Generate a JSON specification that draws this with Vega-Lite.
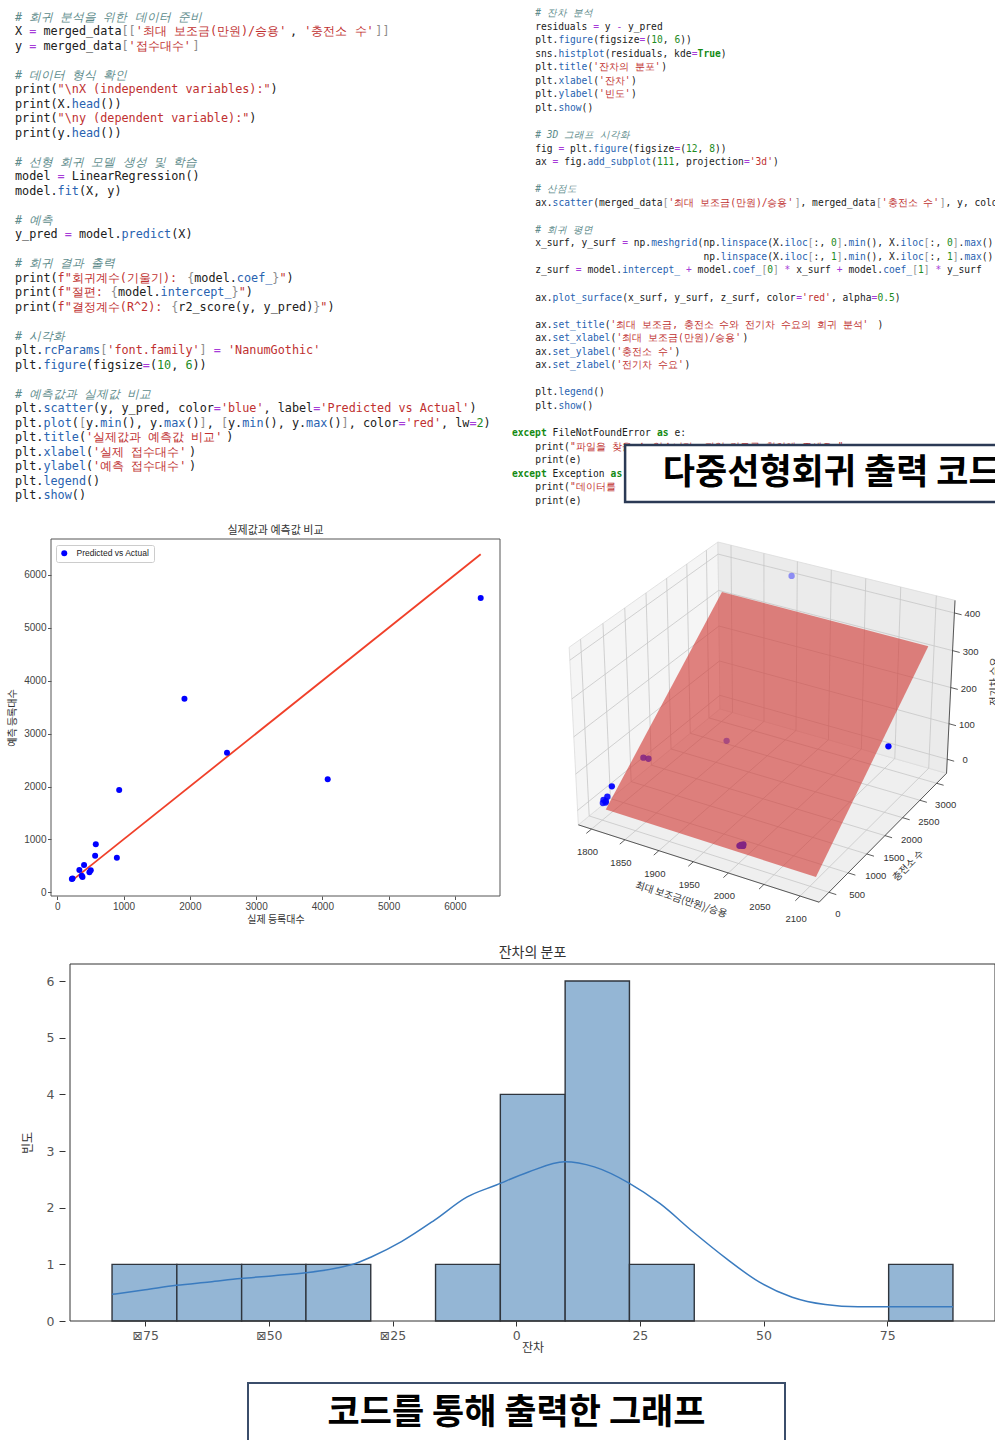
{
"$schema": "https://vega.github.io/schema/vega-lite/v6.json",
"background": "white",
"padding": 0,
"bounds": "flush",
"spacing": 0,
"resolve": {"scale": {"color": "independent"}, "legend": {"color": "independent"}},
"config": {"view": {"stroke": null}, "concat": {"spacing": 0}},
"datasets": {
"codeL": [
{"l":0,"c":0,"k":"c","t":"# 회귀 분석을 위한 데이터 준비"},
{"l":1,"c":0,"k":"d","t":"X"},{"l":1,"c":2,"k":"o","t":"="},{"l":1,"c":4,"k":"d","t":"merged_data"},{"l":1,"c":15,"k":"b","t":"[["},{"l":1,"c":17,"k":"s","t":"'최대 보조금(만원)/승용'"},{"l":1,"c":38.75,"k":"d","t":","},{"l":1,"c":40.75,"k":"s","t":"'충전소 수'"},{"l":1,"c":50.75,"k":"b","t":"]]"},
{"l":2,"c":0,"k":"d","t":"y"},{"l":2,"c":2,"k":"o","t":"="},{"l":2,"c":4,"k":"d","t":"merged_data"},{"l":2,"c":15,"k":"b","t":"["},{"l":2,"c":16,"k":"s","t":"'접수대수'"},{"l":2,"c":25,"k":"b","t":"]"},
{"l":4,"c":0,"k":"c","t":"# 데이터 형식 확인"},
{"l":5,"c":0,"k":"d","t":"print("},{"l":5,"c":6,"k":"s","t":"\"\\nX (independent variables):\""},{"l":5,"c":36,"k":"d","t":")"},
{"l":6,"c":0,"k":"d","t":"print(X."},{"l":6,"c":8,"k":"p","t":"head"},{"l":6,"c":12,"k":"d","t":"())"},
{"l":7,"c":0,"k":"d","t":"print("},{"l":7,"c":6,"k":"s","t":"\"\\ny (dependent variable):\""},{"l":7,"c":33,"k":"d","t":")"},
{"l":8,"c":0,"k":"d","t":"print(y."},{"l":8,"c":8,"k":"p","t":"head"},{"l":8,"c":12,"k":"d","t":"())"},
{"l":10,"c":0,"k":"c","t":"# 선형 회귀 모델 생성 및 학습"},
{"l":11,"c":0,"k":"d","t":"model"},{"l":11,"c":6,"k":"o","t":"="},{"l":11,"c":8,"k":"d","t":"LinearRegression()"},
{"l":12,"c":0,"k":"d","t":"model."},{"l":12,"c":6,"k":"p","t":"fit"},{"l":12,"c":9,"k":"d","t":"(X, y)"},
{"l":14,"c":0,"k":"c","t":"# 예측"},
{"l":15,"c":0,"k":"d","t":"y_pred"},{"l":15,"c":7,"k":"o","t":"="},{"l":15,"c":9,"k":"d","t":"model."},{"l":15,"c":15,"k":"p","t":"predict"},{"l":15,"c":22,"k":"d","t":"(X)"},
{"l":17,"c":0,"k":"c","t":"# 회귀 결과 출력"},
{"l":18,"c":0,"k":"d","t":"print("},{"l":18,"c":6,"k":"s","t":"f\"회귀계수(기울기):"},{"l":18,"c":24.25,"k":"b","t":"{"},{"l":18,"c":25.25,"k":"d","t":"model."},{"l":18,"c":31.25,"k":"p","t":"coef_"},{"l":18,"c":36.25,"k":"b","t":"}"},{"l":18,"c":37.25,"k":"s","t":"\""},{"l":18,"c":38.25,"k":"d","t":")"},
{"l":19,"c":0,"k":"d","t":"print("},{"l":19,"c":6,"k":"s","t":"f\"절편:"},{"l":19,"c":13.5,"k":"b","t":"{"},{"l":19,"c":14.5,"k":"d","t":"model."},{"l":19,"c":20.5,"k":"p","t":"intercept_"},{"l":19,"c":30.5,"k":"b","t":"}"},{"l":19,"c":31.5,"k":"s","t":"\""},{"l":19,"c":32.5,"k":"d","t":")"},
{"l":20,"c":0,"k":"d","t":"print("},{"l":20,"c":6,"k":"s","t":"f\"결정계수(R^2):"},{"l":20,"c":22,"k":"b","t":"{"},{"l":20,"c":23,"k":"d","t":"r2_score(y, y_pred)"},{"l":20,"c":42,"k":"b","t":"}"},{"l":20,"c":43,"k":"s","t":"\""},{"l":20,"c":44,"k":"d","t":")"},
{"l":22,"c":0,"k":"c","t":"# 시각화"},
{"l":23,"c":0,"k":"d","t":"plt."},{"l":23,"c":4,"k":"p","t":"rcParams"},{"l":23,"c":12,"k":"b","t":"["},{"l":23,"c":13,"k":"s","t":"'font.family'"},{"l":23,"c":26,"k":"b","t":"]"},{"l":23,"c":28,"k":"o","t":"="},{"l":23,"c":30,"k":"s","t":"'NanumGothic'"},
{"l":24,"c":0,"k":"d","t":"plt."},{"l":24,"c":4,"k":"p","t":"figure"},{"l":24,"c":10,"k":"d","t":"(figsize"},{"l":24,"c":18,"k":"o","t":"="},{"l":24,"c":19,"k":"d","t":"("},{"l":24,"c":20,"k":"n","t":"10"},{"l":24,"c":22,"k":"d","t":","},{"l":24,"c":24,"k":"n","t":"6"},{"l":24,"c":25,"k":"d","t":"))"},
{"l":26,"c":0,"k":"c","t":"# 예측값과 실제값 비교"},
{"l":27,"c":0,"k":"d","t":"plt."},{"l":27,"c":4,"k":"p","t":"scatter"},{"l":27,"c":11,"k":"d","t":"(y, y_pred, color"},{"l":27,"c":28,"k":"o","t":"="},{"l":27,"c":29,"k":"s","t":"'blue'"},{"l":27,"c":35,"k":"d","t":", label"},{"l":27,"c":42,"k":"o","t":"="},{"l":27,"c":43,"k":"s","t":"'Predicted vs Actual'"},{"l":27,"c":64,"k":"d","t":")"},
{"l":28,"c":0,"k":"d","t":"plt."},{"l":28,"c":4,"k":"p","t":"plot"},{"l":28,"c":8,"k":"d","t":"("},{"l":28,"c":9,"k":"b","t":"["},{"l":28,"c":10,"k":"d","t":"y."},{"l":28,"c":12,"k":"p","t":"min"},{"l":28,"c":15,"k":"d","t":"(), y."},{"l":28,"c":21,"k":"p","t":"max"},{"l":28,"c":24,"k":"d","t":"()"},{"l":28,"c":26,"k":"b","t":"]"},{"l":28,"c":27,"k":"d","t":","},{"l":28,"c":29,"k":"b","t":"["},{"l":28,"c":30,"k":"d","t":"y."},{"l":28,"c":32,"k":"p","t":"min"},{"l":28,"c":35,"k":"d","t":"(), y."},{"l":28,"c":41,"k":"p","t":"max"},{"l":28,"c":44,"k":"d","t":"()"},{"l":28,"c":46,"k":"b","t":"]"},{"l":28,"c":47,"k":"d","t":", color"},{"l":28,"c":54,"k":"o","t":"="},{"l":28,"c":55,"k":"s","t":"'red'"},{"l":28,"c":60,"k":"d","t":", lw"},{"l":28,"c":64,"k":"o","t":"="},{"l":28,"c":65,"k":"n","t":"2"},{"l":28,"c":66,"k":"d","t":")"},
{"l":29,"c":0,"k":"d","t":"plt."},{"l":29,"c":4,"k":"p","t":"title"},{"l":29,"c":9,"k":"d","t":"("},{"l":29,"c":10,"k":"s","t":"'실제값과 예측값 비교'"},{"l":29,"c":29.75,"k":"d","t":")"},
{"l":30,"c":0,"k":"d","t":"plt."},{"l":30,"c":4,"k":"p","t":"xlabel"},{"l":30,"c":10,"k":"d","t":"("},{"l":30,"c":11,"k":"s","t":"'실제 접수대수'"},{"l":30,"c":24.5,"k":"d","t":")"},
{"l":31,"c":0,"k":"d","t":"plt."},{"l":31,"c":4,"k":"p","t":"ylabel"},{"l":31,"c":10,"k":"d","t":"("},{"l":31,"c":11,"k":"s","t":"'예측 접수대수'"},{"l":31,"c":24.5,"k":"d","t":")"},
{"l":32,"c":0,"k":"d","t":"plt."},{"l":32,"c":4,"k":"p","t":"legend"},{"l":32,"c":10,"k":"d","t":"()"},
{"l":33,"c":0,"k":"d","t":"plt."},{"l":33,"c":4,"k":"p","t":"show"},{"l":33,"c":8,"k":"d","t":"()"}
],
"codeR": [
{"l":0,"c":4,"k":"c","t":"# 잔차 분석"},
{"l":1,"c":4,"k":"d","t":"residuals"},{"l":1,"c":14,"k":"o","t":"="},{"l":1,"c":16,"k":"d","t":"y"},{"l":1,"c":18,"k":"o","t":"-"},{"l":1,"c":20,"k":"d","t":"y_pred"},
{"l":2,"c":4,"k":"d","t":"plt."},{"l":2,"c":8,"k":"p","t":"figure"},{"l":2,"c":14,"k":"d","t":"(figsize"},{"l":2,"c":22,"k":"o","t":"="},{"l":2,"c":23,"k":"d","t":"("},{"l":2,"c":24,"k":"n","t":"10"},{"l":2,"c":26,"k":"d","t":","},{"l":2,"c":28,"k":"n","t":"6"},{"l":2,"c":29,"k":"d","t":"))"},
{"l":3,"c":4,"k":"d","t":"sns."},{"l":3,"c":8,"k":"p","t":"histplot"},{"l":3,"c":16,"k":"d","t":"(residuals, kde"},{"l":3,"c":31,"k":"o","t":"="},{"l":3,"c":32,"k":"k","t":"True"},{"l":3,"c":36,"k":"d","t":")"},
{"l":4,"c":4,"k":"d","t":"plt."},{"l":4,"c":8,"k":"p","t":"title"},{"l":4,"c":13,"k":"d","t":"("},{"l":4,"c":14,"k":"s","t":"'잔차의 분포'"},{"l":4,"c":25.75,"k":"d","t":")"},
{"l":5,"c":4,"k":"d","t":"plt."},{"l":5,"c":8,"k":"p","t":"xlabel"},{"l":5,"c":14,"k":"d","t":"("},{"l":5,"c":15,"k":"s","t":"'잔차'"},{"l":5,"c":20.5,"k":"d","t":")"},
{"l":6,"c":4,"k":"d","t":"plt."},{"l":6,"c":8,"k":"p","t":"ylabel"},{"l":6,"c":14,"k":"d","t":"("},{"l":6,"c":15,"k":"s","t":"'빈도'"},{"l":6,"c":20.5,"k":"d","t":")"},
{"l":7,"c":4,"k":"d","t":"plt."},{"l":7,"c":8,"k":"p","t":"show"},{"l":7,"c":12,"k":"d","t":"()"},
{"l":9,"c":4,"k":"c","t":"# 3D 그래프 시각화"},
{"l":10,"c":4,"k":"d","t":"fig"},{"l":10,"c":8,"k":"o","t":"="},{"l":10,"c":10,"k":"d","t":"plt."},{"l":10,"c":14,"k":"p","t":"figure"},{"l":10,"c":20,"k":"d","t":"(figsize"},{"l":10,"c":28,"k":"o","t":"="},{"l":10,"c":29,"k":"d","t":"("},{"l":10,"c":30,"k":"n","t":"12"},{"l":10,"c":32,"k":"d","t":","},{"l":10,"c":34,"k":"n","t":"8"},{"l":10,"c":35,"k":"d","t":"))"},
{"l":11,"c":4,"k":"d","t":"ax"},{"l":11,"c":7,"k":"o","t":"="},{"l":11,"c":9,"k":"d","t":"fig."},{"l":11,"c":13,"k":"p","t":"add_subplot"},{"l":11,"c":24,"k":"d","t":"("},{"l":11,"c":25,"k":"n","t":"111"},{"l":11,"c":28,"k":"d","t":", projection"},{"l":11,"c":40,"k":"o","t":"="},{"l":11,"c":41,"k":"s","t":"'3d'"},{"l":11,"c":45,"k":"d","t":")"},
{"l":13,"c":4,"k":"c","t":"# 산점도"},
{"l":14,"c":4,"k":"d","t":"ax."},{"l":14,"c":7,"k":"p","t":"scatter"},{"l":14,"c":14,"k":"d","t":"(merged_data"},{"l":14,"c":26,"k":"b","t":"["},{"l":14,"c":27,"k":"s","t":"'최대 보조금(만원)/승용'"},{"l":14,"c":48.75,"k":"b","t":"]"},{"l":14,"c":49.75,"k":"d","t":", merged_data"},{"l":14,"c":62.75,"k":"b","t":"["},{"l":14,"c":63.75,"k":"s","t":"'충전소 수'"},{"l":14,"c":73.75,"k":"b","t":"]"},{"l":14,"c":74.75,"k":"d","t":", y, colo"},
{"l":16,"c":4,"k":"c","t":"# 회귀 평면"},
{"l":17,"c":4,"k":"d","t":"x_surf, y_surf"},{"l":17,"c":19,"k":"o","t":"="},{"l":17,"c":21,"k":"d","t":"np."},{"l":17,"c":24,"k":"p","t":"meshgrid"},{"l":17,"c":32,"k":"d","t":"(np."},{"l":17,"c":36,"k":"p","t":"linspace"},{"l":17,"c":44,"k":"d","t":"(X."},{"l":17,"c":47,"k":"p","t":"iloc"},{"l":17,"c":51,"k":"b","t":"["},{"l":17,"c":52,"k":"d","t":":,"},{"l":17,"c":55,"k":"n","t":"0"},{"l":17,"c":56,"k":"b","t":"]"},{"l":17,"c":57,"k":"d","t":"."},{"l":17,"c":58,"k":"p","t":"min"},{"l":17,"c":61,"k":"d","t":"(), X."},{"l":17,"c":67,"k":"p","t":"iloc"},{"l":17,"c":71,"k":"b","t":"["},{"l":17,"c":72,"k":"d","t":":,"},{"l":17,"c":75,"k":"n","t":"0"},{"l":17,"c":76,"k":"b","t":"]"},{"l":17,"c":77,"k":"d","t":"."},{"l":17,"c":78,"k":"p","t":"max"},{"l":17,"c":81,"k":"d","t":"()"},
{"l":18,"c":33,"k":"d","t":"np."},{"l":18,"c":36,"k":"p","t":"linspace"},{"l":18,"c":44,"k":"d","t":"(X."},{"l":18,"c":47,"k":"p","t":"iloc"},{"l":18,"c":51,"k":"b","t":"["},{"l":18,"c":52,"k":"d","t":":,"},{"l":18,"c":55,"k":"n","t":"1"},{"l":18,"c":56,"k":"b","t":"]"},{"l":18,"c":57,"k":"d","t":"."},{"l":18,"c":58,"k":"p","t":"min"},{"l":18,"c":61,"k":"d","t":"(), X."},{"l":18,"c":67,"k":"p","t":"iloc"},{"l":18,"c":71,"k":"b","t":"["},{"l":18,"c":72,"k":"d","t":":,"},{"l":18,"c":75,"k":"n","t":"1"},{"l":18,"c":76,"k":"b","t":"]"},{"l":18,"c":77,"k":"d","t":"."},{"l":18,"c":78,"k":"p","t":"max"},{"l":18,"c":81,"k":"d","t":"()"},
{"l":19,"c":4,"k":"d","t":"z_surf"},{"l":19,"c":11,"k":"o","t":"="},{"l":19,"c":13,"k":"d","t":"model."},{"l":19,"c":19,"k":"p","t":"intercept_"},{"l":19,"c":30,"k":"o","t":"+"},{"l":19,"c":32,"k":"d","t":"model."},{"l":19,"c":38,"k":"p","t":"coef_"},{"l":19,"c":43,"k":"b","t":"["},{"l":19,"c":44,"k":"n","t":"0"},{"l":19,"c":45,"k":"b","t":"]"},{"l":19,"c":47,"k":"o","t":"*"},{"l":19,"c":49,"k":"d","t":"x_surf"},{"l":19,"c":56,"k":"o","t":"+"},{"l":19,"c":58,"k":"d","t":"model."},{"l":19,"c":64,"k":"p","t":"coef_"},{"l":19,"c":69,"k":"b","t":"["},{"l":19,"c":70,"k":"n","t":"1"},{"l":19,"c":71,"k":"b","t":"]"},{"l":19,"c":73,"k":"o","t":"*"},{"l":19,"c":75,"k":"d","t":"y_surf"},
{"l":21,"c":4,"k":"d","t":"ax."},{"l":21,"c":7,"k":"p","t":"plot_surface"},{"l":21,"c":19,"k":"d","t":"(x_surf, y_surf, z_surf, color"},{"l":21,"c":49,"k":"o","t":"="},{"l":21,"c":50,"k":"s","t":"'red'"},{"l":21,"c":55,"k":"d","t":", alpha"},{"l":21,"c":62,"k":"o","t":"="},{"l":21,"c":63,"k":"n","t":"0.5"},{"l":21,"c":66,"k":"d","t":")"},
{"l":23,"c":4,"k":"d","t":"ax."},{"l":23,"c":7,"k":"p","t":"set_title"},{"l":23,"c":16,"k":"d","t":"("},{"l":23,"c":17,"k":"s","t":"'최대 보조금, 충전소 수와 전기차 수요의 회귀 분석'"},{"l":23,"c":63,"k":"d","t":")"},
{"l":24,"c":4,"k":"d","t":"ax."},{"l":24,"c":7,"k":"p","t":"set_xlabel"},{"l":24,"c":17,"k":"d","t":"("},{"l":24,"c":18,"k":"s","t":"'최대 보조금(만원)/승용'"},{"l":24,"c":39.75,"k":"d","t":")"},
{"l":25,"c":4,"k":"d","t":"ax."},{"l":25,"c":7,"k":"p","t":"set_ylabel"},{"l":25,"c":17,"k":"d","t":"("},{"l":25,"c":18,"k":"s","t":"'충전소 수'"},{"l":25,"c":28,"k":"d","t":")"},
{"l":26,"c":4,"k":"d","t":"ax."},{"l":26,"c":7,"k":"p","t":"set_zlabel"},{"l":26,"c":17,"k":"d","t":"("},{"l":26,"c":18,"k":"s","t":"'전기차 수요'"},{"l":26,"c":29.75,"k":"d","t":")"},
{"l":28,"c":4,"k":"d","t":"plt."},{"l":28,"c":8,"k":"p","t":"legend"},{"l":28,"c":14,"k":"d","t":"()"},
{"l":29,"c":4,"k":"d","t":"plt."},{"l":29,"c":8,"k":"p","t":"show"},{"l":29,"c":12,"k":"d","t":"()"},
{"l":31,"c":0,"k":"k","t":"except"},{"l":31,"c":7,"k":"d","t":"FileNotFoundError"},{"l":31,"c":25,"k":"k","t":"as"},{"l":31,"c":28,"k":"d","t":"e:"},
{"l":32,"c":4,"k":"d","t":"print("},{"l":32,"c":10,"k":"s","t":"\"파일을 찾을 수 없습니다. 파일 경로를 확인해 주세요.\""},
{"l":33,"c":4,"k":"d","t":"print(e)"},
{"l":34,"c":0,"k":"k","t":"except"},{"l":34,"c":7,"k":"d","t":"Exception"},{"l":34,"c":17,"k":"k","t":"as"},
{"l":35,"c":4,"k":"d","t":"print("},{"l":35,"c":10,"k":"s","t":"\"데이터를"},
{"l":36,"c":4,"k":"d","t":"print(e)"}
],
"box": [{"c0": 19.5, "c1": 84.5, "l0": 31.88, "l1": 36.09, "tc": 26.0, "tl": 33.95, "t": "다중선형회귀 출력 코드"}],
"sc": [
{"a":220,"p":250,"s":"Predicted vs Actual"},{"a":230,"p":262,"s":"Predicted vs Actual"},{"a":333,"p":422,"s":"Predicted vs Actual"},{"a":404,"p":517,"s":"Predicted vs Actual"},{"a":369,"p":315,"s":"Predicted vs Actual"},{"a":380,"p":290,"s":"Predicted vs Actual"},{"a":485,"p":378,"s":"Predicted vs Actual"},{"a":505,"p":416,"s":"Predicted vs Actual"},{"a":571,"p":693,"s":"Predicted vs Actual"},{"a":581,"p":907,"s":"Predicted vs Actual"},{"a":899,"p":655,"s":"Predicted vs Actual"},{"a":934,"p":1934,"s":"Predicted vs Actual"},{"a":1919,"p":3661,"s":"Predicted vs Actual"},{"a":2561,"p":2640,"s":"Predicted vs Actual"},{"a":4081,"p":2136,"s":"Predicted vs Actual"},{"a":6390,"p":5564,"s":"Predicted vs Actual"}
],
"ln": [{"a":220,"p":220},{"a":6390,"p":6390}],
"sclim": [{"a": -95, "a2": 6681, "p": -70, "p2": 6679}],
"hist": [
{"lo":-81.7,"hi":-68.6,"n":1},{"lo":-68.6,"hi":-55.5,"n":1},{"lo":-55.5,"hi":-42.5,"n":1},{"lo":-42.5,"hi":-29.4,"n":1},{"lo":-16.3,"hi":-3.2,"n":1},{"lo":-3.2,"hi":9.9,"n":4},{"lo":9.9,"hi":22.9,"n":6},{"lo":22.9,"hi":36.0,"n":1},{"lo":75.3,"hi":88.3,"n":1}
],
"hlim": [{"lo": -90.2, "hi": 96.8, "n": 0, "n2": 6.3}],
"kde": [
{"lo":-81.7,"n":0.47},{"lo":-75,"n":0.55},{"lo":-68.7,"n":0.63},{"lo":-62,"n":0.69},{"lo":-55.7,"n":0.75},{"lo":-49,"n":0.8},{"lo":-42.5,"n":0.85},{"lo":-36.5,"n":0.93},{"lo":-33,"n":1.0},{"lo":-29.3,"n":1.13},{"lo":-23.2,"n":1.4},{"lo":-16.5,"n":1.78},{"lo":-9.9,"n":2.19},{"lo":-4,"n":2.4},{"lo":2.5,"n":2.63},{"lo":9.8,"n":2.81},{"lo":15.8,"n":2.72},{"lo":22.9,"n":2.43},{"lo":29.1,"n":2.07},{"lo":35.8,"n":1.57},{"lo":42.5,"n":1.1},{"lo":49.1,"n":0.69},{"lo":55.8,"n":0.42},{"lo":62.5,"n":0.29},{"lo":69.1,"n":0.25},{"lo":75.8,"n":0.25},{"lo":82,"n":0.25},{"lo":88.3,"n":0.25}
],
"d3": [
{"kind":"floor","i":0,"x":1780,"y":-250,"z":-40},{"kind":"floor","i":1,"x":2126,"y":-250,"z":-40},{"kind":"floor","i":2,"x":2126,"y":3300,"z":-40},{"kind":"floor","i":3,"x":1780,"y":3300,"z":-40},
{"kind":"wallx","i":0,"x":1780,"y":-250,"z":-40},{"kind":"wallx","i":1,"x":1780,"y":3300,"z":-40},{"kind":"wallx","i":2,"x":1780,"y":3300,"z":433},{"kind":"wallx","i":3,"x":1780,"y":-250,"z":433},
{"kind":"wally","i":0,"x":1780,"y":3300,"z":-40},{"kind":"wally","i":1,"x":2126,"y":3300,"z":-40},{"kind":"wally","i":2,"x":2126,"y":3300,"z":433},{"kind":"wally","i":3,"x":1780,"y":3300,"z":433},
{"kind":"grid","g":"gx1800","i":0,"x":1800,"y":-250,"z":-40},{"kind":"grid","g":"gx1800","i":1,"x":1800,"y":3300,"z":-40},{"kind":"grid","g":"gx1800","i":2,"x":1800,"y":3300,"z":433},
{"kind":"grid","g":"gx1850","i":0,"x":1850,"y":-250,"z":-40},{"kind":"grid","g":"gx1850","i":1,"x":1850,"y":3300,"z":-40},{"kind":"grid","g":"gx1850","i":2,"x":1850,"y":3300,"z":433},
{"kind":"grid","g":"gx1900","i":0,"x":1900,"y":-250,"z":-40},{"kind":"grid","g":"gx1900","i":1,"x":1900,"y":3300,"z":-40},{"kind":"grid","g":"gx1900","i":2,"x":1900,"y":3300,"z":433},
{"kind":"grid","g":"gx1950","i":0,"x":1950,"y":-250,"z":-40},{"kind":"grid","g":"gx1950","i":1,"x":1950,"y":3300,"z":-40},{"kind":"grid","g":"gx1950","i":2,"x":1950,"y":3300,"z":433},
{"kind":"grid","g":"gx2000","i":0,"x":2000,"y":-250,"z":-40},{"kind":"grid","g":"gx2000","i":1,"x":2000,"y":3300,"z":-40},{"kind":"grid","g":"gx2000","i":2,"x":2000,"y":3300,"z":433},
{"kind":"grid","g":"gx2050","i":0,"x":2050,"y":-250,"z":-40},{"kind":"grid","g":"gx2050","i":1,"x":2050,"y":3300,"z":-40},{"kind":"grid","g":"gx2050","i":2,"x":2050,"y":3300,"z":433},
{"kind":"grid","g":"gx2100","i":0,"x":2100,"y":-250,"z":-40},{"kind":"grid","g":"gx2100","i":1,"x":2100,"y":3300,"z":-40},{"kind":"grid","g":"gx2100","i":2,"x":2100,"y":3300,"z":433},
{"kind":"grid","g":"gy0","i":0,"x":2126,"y":0,"z":-40},{"kind":"grid","g":"gy0","i":1,"x":1780,"y":0,"z":-40},{"kind":"grid","g":"gy0","i":2,"x":1780,"y":0,"z":433},
{"kind":"grid","g":"gy500","i":0,"x":2126,"y":500,"z":-40},{"kind":"grid","g":"gy500","i":1,"x":1780,"y":500,"z":-40},{"kind":"grid","g":"gy500","i":2,"x":1780,"y":500,"z":433},
{"kind":"grid","g":"gy1000","i":0,"x":2126,"y":1000,"z":-40},{"kind":"grid","g":"gy1000","i":1,"x":1780,"y":1000,"z":-40},{"kind":"grid","g":"gy1000","i":2,"x":1780,"y":1000,"z":433},
{"kind":"grid","g":"gy1500","i":0,"x":2126,"y":1500,"z":-40},{"kind":"grid","g":"gy1500","i":1,"x":1780,"y":1500,"z":-40},{"kind":"grid","g":"gy1500","i":2,"x":1780,"y":1500,"z":433},
{"kind":"grid","g":"gy2000","i":0,"x":2126,"y":2000,"z":-40},{"kind":"grid","g":"gy2000","i":1,"x":1780,"y":2000,"z":-40},{"kind":"grid","g":"gy2000","i":2,"x":1780,"y":2000,"z":433},
{"kind":"grid","g":"gy2500","i":0,"x":2126,"y":2500,"z":-40},{"kind":"grid","g":"gy2500","i":1,"x":1780,"y":2500,"z":-40},{"kind":"grid","g":"gy2500","i":2,"x":1780,"y":2500,"z":433},
{"kind":"grid","g":"gy3000","i":0,"x":2126,"y":3000,"z":-40},{"kind":"grid","g":"gy3000","i":1,"x":1780,"y":3000,"z":-40},{"kind":"grid","g":"gy3000","i":2,"x":1780,"y":3000,"z":433},
{"kind":"grid","g":"gz0","i":0,"x":1780,"y":-250,"z":0},{"kind":"grid","g":"gz0","i":1,"x":1780,"y":3300,"z":0},{"kind":"grid","g":"gz0","i":2,"x":2126,"y":3300,"z":0},
{"kind":"grid","g":"gz100","i":0,"x":1780,"y":-250,"z":100},{"kind":"grid","g":"gz100","i":1,"x":1780,"y":3300,"z":100},{"kind":"grid","g":"gz100","i":2,"x":2126,"y":3300,"z":100},
{"kind":"grid","g":"gz200","i":0,"x":1780,"y":-250,"z":200},{"kind":"grid","g":"gz200","i":1,"x":1780,"y":3300,"z":200},{"kind":"grid","g":"gz200","i":2,"x":2126,"y":3300,"z":200},
{"kind":"grid","g":"gz300","i":0,"x":1780,"y":-250,"z":300},{"kind":"grid","g":"gz300","i":1,"x":1780,"y":3300,"z":300},{"kind":"grid","g":"gz300","i":2,"x":2126,"y":3300,"z":300},
{"kind":"grid","g":"gz400","i":0,"x":1780,"y":-250,"z":400},{"kind":"grid","g":"gz400","i":1,"x":1780,"y":3300,"z":400},{"kind":"grid","g":"gz400","i":2,"x":2126,"y":3300,"z":400},
{"kind":"axis","g":"ax","i":0,"x":1780,"y":-250,"z":-40},{"kind":"axis","g":"ax","i":1,"x":2126,"y":-250,"z":-40},
{"kind":"axis","g":"ay","i":0,"x":2126,"y":-250,"z":-40},{"kind":"axis","g":"ay","i":1,"x":2126,"y":3300,"z":-40},
{"kind":"axis","g":"az","i":0,"x":2126,"y":3300,"z":-40},{"kind":"axis","g":"az","i":1,"x":2126,"y":3300,"z":433},
{"kind":"tick","g":"tx1800","i":0,"x":1800,"y":-250,"z":-40},{"kind":"tick","g":"tx1800","i":1,"x":1800,"y":-370,"z":-40},
{"kind":"tick","g":"tx1850","i":0,"x":1850,"y":-250,"z":-40},{"kind":"tick","g":"tx1850","i":1,"x":1850,"y":-370,"z":-40},
{"kind":"tick","g":"tx1900","i":0,"x":1900,"y":-250,"z":-40},{"kind":"tick","g":"tx1900","i":1,"x":1900,"y":-370,"z":-40},
{"kind":"tick","g":"tx1950","i":0,"x":1950,"y":-250,"z":-40},{"kind":"tick","g":"tx1950","i":1,"x":1950,"y":-370,"z":-40},
{"kind":"tick","g":"tx2000","i":0,"x":2000,"y":-250,"z":-40},{"kind":"tick","g":"tx2000","i":1,"x":2000,"y":-370,"z":-40},
{"kind":"tick","g":"tx2050","i":0,"x":2050,"y":-250,"z":-40},{"kind":"tick","g":"tx2050","i":1,"x":2050,"y":-370,"z":-40},
{"kind":"tick","g":"tx2100","i":0,"x":2100,"y":-250,"z":-40},{"kind":"tick","g":"tx2100","i":1,"x":2100,"y":-370,"z":-40},
{"kind":"tick","g":"ty0","i":0,"x":2126,"y":0,"z":-40},{"kind":"tick","g":"ty0","i":1,"x":2136,"y":0,"z":-40},
{"kind":"tick","g":"ty500","i":0,"x":2126,"y":500,"z":-40},{"kind":"tick","g":"ty500","i":1,"x":2136,"y":500,"z":-40},
{"kind":"tick","g":"ty1000","i":0,"x":2126,"y":1000,"z":-40},{"kind":"tick","g":"ty1000","i":1,"x":2136,"y":1000,"z":-40},
{"kind":"tick","g":"ty1500","i":0,"x":2126,"y":1500,"z":-40},{"kind":"tick","g":"ty1500","i":1,"x":2136,"y":1500,"z":-40},
{"kind":"tick","g":"ty2000","i":0,"x":2126,"y":2000,"z":-40},{"kind":"tick","g":"ty2000","i":1,"x":2136,"y":2000,"z":-40},
{"kind":"tick","g":"ty2500","i":0,"x":2126,"y":2500,"z":-40},{"kind":"tick","g":"ty2500","i":1,"x":2136,"y":2500,"z":-40},
{"kind":"tick","g":"ty3000","i":0,"x":2126,"y":3000,"z":-40},{"kind":"tick","g":"ty3000","i":1,"x":2136,"y":3000,"z":-40},
{"kind":"tick","g":"tz0","i":0,"x":2126,"y":3300,"z":0},{"kind":"tick","g":"tz0","i":1,"x":2136,"y":3300,"z":0},
{"kind":"tick","g":"tz100","i":0,"x":2126,"y":3300,"z":100},{"kind":"tick","g":"tz100","i":1,"x":2136,"y":3300,"z":100},
{"kind":"tick","g":"tz200","i":0,"x":2126,"y":3300,"z":200},{"kind":"tick","g":"tz200","i":1,"x":2136,"y":3300,"z":200},
{"kind":"tick","g":"tz300","i":0,"x":2126,"y":3300,"z":300},{"kind":"tick","g":"tz300","i":1,"x":2136,"y":3300,"z":300},
{"kind":"tick","g":"tz400","i":0,"x":2126,"y":3300,"z":400},{"kind":"tick","g":"tz400","i":1,"x":2136,"y":3300,"z":400},
{"kind":"xt","x":1800,"y":-250,"z":-40,"t":"1800"},{"kind":"xt","x":1850,"y":-250,"z":-40,"t":"1850"},{"kind":"xt","x":1900,"y":-250,"z":-40,"t":"1900"},{"kind":"xt","x":1950,"y":-250,"z":-40,"t":"1950"},{"kind":"xt","x":2000,"y":-250,"z":-40,"t":"2000"},{"kind":"xt","x":2050,"y":-250,"z":-40,"t":"2050"},{"kind":"xt","x":2100,"y":-250,"z":-40,"t":"2100"},
{"kind":"yt","x":2126,"y":0,"z":-40,"t":"0"},{"kind":"yt","x":2126,"y":500,"z":-40,"t":"500"},{"kind":"yt","x":2126,"y":1000,"z":-40,"t":"1000"},{"kind":"yt","x":2126,"y":1500,"z":-40,"t":"1500"},{"kind":"yt","x":2126,"y":2000,"z":-40,"t":"2000"},{"kind":"yt","x":2126,"y":2500,"z":-40,"t":"2500"},{"kind":"yt","x":2126,"y":3000,"z":-40,"t":"3000"},
{"kind":"zt","x":2126,"y":3300,"z":0,"t":"0"},{"kind":"zt","x":2126,"y":3300,"z":100,"t":"100"},{"kind":"zt","x":2126,"y":3300,"z":200,"t":"200"},{"kind":"zt","x":2126,"y":3300,"z":300,"t":"300"},{"kind":"zt","x":2126,"y":3300,"z":400,"t":"400"},
{"kind":"xl","x":1953,"y":-250,"z":-40,"t":"최대 보조금(만원)/승용"},
{"kind":"yl","x":2126,"y":1525,"z":-40,"t":"충전소 수"},
{"kind":"zl","x":2126,"y":3300,"z":200,"t":"전기차 수요"},
{"kind":"surf","i":0,"x":1806,"y":0,"z":-7},{"kind":"surf","i":1,"x":2108,"y":0,"z":-10},{"kind":"surf","i":2,"x":2108,"y":2950,"z":332},{"kind":"surf","i":3,"x":1806,"y":2950,"z":335},
{"kind":"pt","x":1908,"y":3000,"z":421},{"kind":"pt","x":2100,"y":2055,"z":137},{"kind":"pt","x":1900,"y":1437,"z":100},{"kind":"pt","x":1830,"y":544,"z":98},{"kind":"pt","x":1835,"y":584,"z":94},{"kind":"pt","x":1810,"y":100,"z":50},{"kind":"pt","x":1800,"y":47,"z":12},{"kind":"pt","x":1802,"y":63,"z":4},{"kind":"pt","x":1798,"y":58,"z":1},{"kind":"pt","x":1805,"y":62,"z":22},{"kind":"pt","x":2000,"y":64,"z":4},{"kind":"pt","x":2002,"y":80,"z":1},{"kind":"pt","x":1998,"y":60,"z":1},{"kind":"pt","x":2003,"y":70,"z":7},{"kind":"pt","x":1803,"y":55,"z":9},{"kind":"pt","x":2001,"y":66,"z":3}
]
},
"vconcat": [
{
"width": 995, "height": 539,
"resolve": {"scale": {"x": "independent", "y": "independent"}},
"layer": [
{
"data": {"name": "codeL"},
"encoding": {
"x": {"field": "c", "type": "quantitative", "scale": {"domain": [-2.1127, 138.03], "nice": false, "zero": false}, "axis": null},
"y": {"field": "l", "type": "quantitative", "scale": {"domain": [-1.1724, 36.0], "reverse": true, "nice": false, "zero": false}, "axis": null},
"text": {"field": "t", "type": "nominal"},
"color": {"field": "k", "type": "nominal", "scale": {"domain": ["d","c","o","s","p","n","k","b"], "range": ["#202020","#5d8b8b","#a63cd8","#c03030","#2862b0","#1e8c1e","#138a13","#8c8c8c"]}, "legend": null}
},
"layer": [
{"transform": [{"filter": "datum.k === 'c'"}], "mark": {"type": "text", "align": "left", "baseline": "middle", "font": "DejaVu Sans Mono", "fontSize": 11.8, "fontStyle": "italic"}},
{"transform": [{"filter": "datum.k !== 'c'"}], "mark": {"type": "text", "align": "left", "baseline": "middle", "font": "DejaVu Sans Mono", "fontSize": 11.8}}
]
},
{
"data": {"name": "codeR"},
"encoding": {
"x": {"field": "c", "type": "quantitative", "scale": {"domain": [-88.276, 83.276], "nice": false, "zero": false}, "axis": null},
"y": {"field": "l", "type": "quantitative", "scale": {"domain": [-0.9594, 38.819], "reverse": true, "nice": false, "zero": false}, "axis": null},
"text": {"field": "t", "type": "nominal"},
"color": {"field": "k", "type": "nominal", "scale": {"domain": ["d","c","o","s","p","n","k","b"], "range": ["#202020","#5d8b8b","#a63cd8","#c03030","#2862b0","#1e8c1e","#138a13","#8c8c8c"]}, "legend": null}
},
"layer": [
{"transform": [{"filter": "datum.k === 'c'"}], "mark": {"type": "text", "align": "left", "baseline": "middle", "font": "DejaVu Sans Mono", "fontSize": 9.6, "fontStyle": "italic"}},
{"transform": [{"filter": "datum.k === 'k'"}], "mark": {"type": "text", "align": "left", "baseline": "middle", "font": "DejaVu Sans Mono", "fontSize": 9.6, "fontWeight": "bold"}},
{"transform": [{"filter": "datum.k !== 'c' && datum.k !== 'k'"}], "mark": {"type": "text", "align": "left", "baseline": "middle", "font": "DejaVu Sans Mono", "fontSize": 9.6}},
{"data": {"name": "box"}, "mark": {"type": "rect", "stroke": "#2b3a55", "strokeWidth": 2.5, "fill": "#ffffff"},
 "encoding": {"x": {"field": "c0", "type": "quantitative", "axis": null}, "x2": {"field": "c1"}, "y": {"field": "l0", "type": "quantitative", "axis": null}, "y2": {"field": "l1"}, "color": {"value": "#ffffff"}}},
{"data": {"name": "box"}, "mark": {"type": "text", "align": "left", "baseline": "middle", "font": "Noto Sans CJK KR", "fontSize": 35, "fontWeight": "bold"},
 "encoding": {"x": {"field": "tc", "type": "quantitative", "axis": null}, "y": {"field": "tl", "type": "quantitative", "axis": null}, "color": {"value": "#000000"}}}
]
}
]
},
{
"width": 995, "height": 425,
"title": {"text": "실제값과 예측값 비교", "frame": "group", "anchor": "middle", "dx": -222, "dy": 12, "offset": 4, "baseline": "bottom", "fontSize": 11, "fontWeight": "normal", "font": "Noto Sans CJK KR", "color": "#333333"},
"resolve": {"scale": {"x": "independent", "y": "independent"}},
"layer": [
{
"encoding": {
"x": {"field": "a", "type": "quantitative", "scale": {"domain": [-95, 6681], "range": [51, 500], "nice": false, "zero": false},
 "axis": {"values": [0,1000,2000,3000,4000,5000,6000], "format": "d", "title": "실제 등록대수", "offset": -68, "domain": false, "grid": false, "tickSize": 3.5, "tickColor": "#555555", "labelPadding": 1.5, "labelFont": "Liberation Sans", "labelFontSize": 10, "labelColor": "#444444", "titleFont": "Noto Sans CJK KR", "titleFontSize": 10, "titleFontWeight": "normal", "titleColor": "#333333", "titlePadding": 3}},
"y": {"field": "p", "type": "quantitative", "scale": {"domain": [-70, 6679], "range": [357, 0], "nice": false, "zero": false},
 "axis": {"values": [0,1000,2000,3000,4000,5000,6000], "format": "d", "title": "예측 등록대수", "offset": -51, "domain": false, "grid": false, "tickSize": 3.5, "tickColor": "#555555", "labelPadding": 1.5, "labelFont": "Liberation Sans", "labelFontSize": 10, "labelColor": "#444444", "titleFont": "Noto Sans CJK KR", "titleFontSize": 10, "titleFontWeight": "normal", "titleColor": "#333333", "titlePadding": 6}}
},
"layer": [
{"data": {"name": "sclim"}, "mark": {"type": "rect", "filled": false, "color": "#555555", "strokeWidth": 1}, "encoding": {"x2": {"field": "a2"}, "y2": {"field": "p2"}}},
{"data": {"name": "ln"}, "mark": {"type": "line", "color": "#f0402a", "strokeWidth": 1.8}},
{"data": {"name": "sc"}, "mark": {"type": "point", "filled": true, "size": 36, "opacity": 1},
 "encoding": {"color": {"field": "s", "type": "nominal", "scale": {"domain": ["Predicted vs Actual"], "range": ["#0000ff"]},
  "legend": {"title": null, "orient": "none", "legendX": 56, "legendY": 6, "fillColor": "#ffffff", "strokeColor": "#cccccc", "padding": 4, "cornerRadius": 2, "labelFontSize": 8.5, "labelFont": "Liberation Sans", "labelColor": "#222222", "symbolSize": 36, "symbolType": "circle", "symbolStrokeWidth": 0, "labelOffset": 8}}}}
]
},
{
"data": {"name": "d3"},
"transform": [
{"calculate": "((datum.x-1780)/346-0.5)*4", "as": "X"},
{"calculate": "((datum.y+250)/3550-0.5)*4", "as": "Y"},
{"calculate": "((datum.z+40)/473-0.5)*3", "as": "Z"},
{"calculate": "0.433*datum.X-0.75*datum.Y+0.5*datum.Z", "as": "dep"},
{"calculate": "32/(32-datum.dep)", "as": "k"},
{"calculate": "766+68.94*datum.k*(0.866*datum.X+0.5*datum.Y)", "as": "u"},
{"calculate": "713-67.4*datum.k*(-0.25*datum.X+0.433*datum.Y+0.866*datum.Z)", "as": "v"}
],
"encoding": {
"x": {"field": "u", "type": "quantitative", "scale": {"domain": [0, 995], "nice": false, "zero": false}, "axis": null},
"y": {"field": "v", "type": "quantitative", "scale": {"domain": [539, 964], "reverse": true, "nice": false, "zero": false}, "axis": null}
},
"layer": [
{"transform": [{"filter": "datum.kind === 'floor'"}], "mark": {"type": "line", "interpolate": "linear-closed", "fill": "#efefef", "stroke": "#dcdcdc", "strokeWidth": 0.8}, "encoding": {"order": {"field": "i", "type": "quantitative"}}},
{"transform": [{"filter": "datum.kind === 'wallx'"}], "mark": {"type": "line", "interpolate": "linear-closed", "fill": "#f5f5f5", "stroke": "#dcdcdc", "strokeWidth": 0.8}, "encoding": {"order": {"field": "i", "type": "quantitative"}}},
{"transform": [{"filter": "datum.kind === 'wally'"}], "mark": {"type": "line", "interpolate": "linear-closed", "fill": "#ebebeb", "stroke": "#dcdcdc", "strokeWidth": 0.8}, "encoding": {"order": {"field": "i", "type": "quantitative"}}},
{"transform": [{"filter": "datum.kind === 'grid'"}], "mark": {"type": "line", "stroke": "#c6c6c6", "strokeWidth": 0.8}, "encoding": {"detail": {"field": "g", "type": "nominal"}, "order": {"field": "i", "type": "quantitative"}}},
{"transform": [{"filter": "datum.kind === 'pt'"}], "mark": {"type": "point", "filled": true, "color": "#0000ff", "size": 40}, "encoding": {"opacity": {"field": "dep", "type": "quantitative", "scale": {"domain": [-0.75, 0.1], "range": [0.4, 1], "clamp": true}, "legend": null}}},
{"transform": [{"filter": "datum.kind === 'surf'"}], "mark": {"type": "line", "interpolate": "linear-closed", "fill": "#d23a36", "fillOpacity": 0.62, "stroke": "#d23a36", "strokeOpacity": 0, "strokeWidth": 0}, "encoding": {"order": {"field": "i", "type": "quantitative"}}},
{"transform": [{"filter": "datum.kind === 'axis' || datum.kind === 'tick'"}], "mark": {"type": "line", "stroke": "#333333", "strokeWidth": 0.8}, "encoding": {"detail": {"field": "g", "type": "nominal"}, "order": {"field": "i", "type": "quantitative"}}},
{"transform": [{"filter": "datum.kind === 'xt'"}], "mark": {"type": "text", "align": "center", "baseline": "middle", "dx": -4, "dy": 23, "fontSize": 9.5, "font": "Liberation Sans", "color": "#333333"}, "encoding": {"text": {"field": "t", "type": "nominal"}}},
{"transform": [{"filter": "datum.kind === 'yt'"}], "mark": {"type": "text", "align": "center", "baseline": "middle", "dx": 9, "dy": 22, "fontSize": 9.5, "font": "Liberation Sans", "color": "#333333"}, "encoding": {"text": {"field": "t", "type": "nominal"}}},
{"transform": [{"filter": "datum.kind === 'zt'"}], "mark": {"type": "text", "align": "center", "baseline": "middle", "dx": 18, "dy": 1, "fontSize": 9.5, "font": "Liberation Sans", "color": "#333333"}, "encoding": {"text": {"field": "t", "type": "nominal"}}},
{"transform": [{"filter": "datum.kind === 'xl'"}], "mark": {"type": "text", "align": "center", "baseline": "middle", "angle": 18, "dx": -2, "dy": 40, "fontSize": 10, "font": "Noto Sans CJK KR", "color": "#333333"}, "encoding": {"text": {"field": "t", "type": "nominal"}}},
{"transform": [{"filter": "datum.kind === 'yl'"}], "mark": {"type": "text", "align": "center", "baseline": "middle", "angle": -45, "dx": -6, "dy": 38, "fontSize": 10, "font": "Noto Sans CJK KR", "color": "#333333"}, "encoding": {"text": {"field": "t", "type": "nominal"}}},
{"transform": [{"filter": "datum.kind === 'zl'"}], "mark": {"type": "text", "align": "center", "baseline": "middle", "angle": 270, "dx": 6, "dy": 44, "fontSize": 10, "font": "Noto Sans CJK KR", "color": "#333333"}, "encoding": {"text": {"field": "t", "type": "nominal"}}}
]
}
]
},
{
"width": 995, "height": 357,
"title": {"text": "잔차의 분포", "frame": "group", "anchor": "middle", "dx": 35, "dy": 15, "offset": 5, "baseline": "bottom", "fontSize": 14, "fontWeight": "normal", "font": "Noto Sans CJK KR", "color": "#333333"},
"encoding": {
"x": {"field": "lo", "type": "quantitative", "scale": {"domain": [-90.2, 96.8], "range": [65, 1000], "nice": false, "zero": false},
 "axis": {"values": [-75,-50,-25,0,25,50,75], "labelExpr": "datum.value < 0 ? '⊠' + abs(datum.value) : datum.label", "title": "잔차", "domain": false, "grid": false, "tickSize": 5, "tickColor": "#333333", "labelPadding": 3, "labelFont": "DejaVu Sans", "labelFontSize": 12.5, "labelColor": "#555555", "titleFont": "Noto Sans CJK KR", "titleFontSize": 12, "titleFontWeight": "normal", "titleColor": "#333333", "titlePadding": 1}},
"y": {"field": "n", "type": "quantitative", "scale": {"domain": [0, 6.3], "nice": false, "zero": false},
 "axis": {"values": [0,1,2,3,4,5,6], "title": "빈도", "offset": -65, "domain": false, "grid": false, "tickSize": 6, "tickColor": "#333333", "labelPadding": 5, "labelFont": "DejaVu Sans", "labelFontSize": 12.5, "labelColor": "#555555", "titleFont": "Noto Sans CJK KR", "titleFontSize": 12, "titleFontWeight": "normal", "titleColor": "#333333", "titlePadding": 12}}
},
"layer": [
{"data": {"name": "hist"}, "mark": {"type": "bar", "orient": "vertical", "fill": "#94b6d5", "stroke": "#2f353d", "strokeWidth": 1.4}, "encoding": {"x2": {"field": "hi"}}},
{"data": {"name": "kde"}, "mark": {"type": "line", "color": "#3a7bbf", "strokeWidth": 1.5, "interpolate": "monotone"}},
{"data": {"name": "hlim"}, "mark": {"type": "rect", "filled": false, "color": "#333333", "strokeWidth": 1}, "encoding": {"x2": {"field": "hi"}, "y2": {"field": "n2"}}}
]
},
{
"width": 995, "height": 119,
"data": {"values": [{"t": "코드를 통해 출력한 그래프"}]},
"layer": [
{"mark": {"type": "rect", "filled": false, "color": "#3b4e6b", "strokeWidth": 2}, "encoding": {"x": {"datum": 0, "scale": {"domain": [0, 1], "range": [248, 785], "nice": false, "zero": false}, "axis": null}, "x2": {"datum": 1}, "y": {"datum": 0, "scale": {"domain": [0, 1], "range": [62, 121], "nice": false, "zero": false}, "axis": null}, "y2": {"datum": 1}}},
{"mark": {"type": "text", "align": "center", "baseline": "middle", "font": "Noto Sans CJK KR", "fontSize": 35, "fontWeight": "bold", "color": "#000000"}, "encoding": {"x": {"datum": 0.5, "scale": {"domain": [0, 1], "range": [248, 785], "nice": false, "zero": false}, "axis": null}, "y": {"datum": 0.5, "scale": {"domain": [0, 1], "range": [62, 121], "nice": false, "zero": false}, "axis": null}, "text": {"field": "t", "type": "nominal"}}}
]
}
]
}
